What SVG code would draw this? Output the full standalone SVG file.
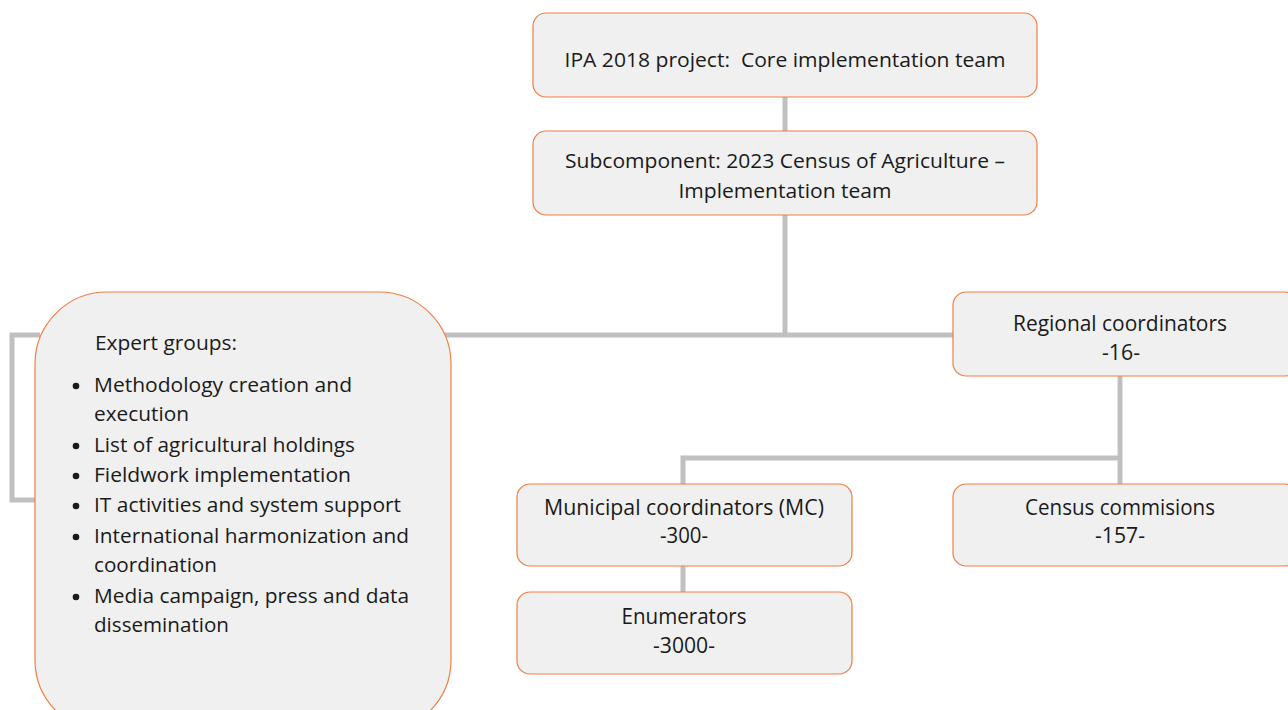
<svg xmlns="http://www.w3.org/2000/svg" width="1288" height="710" viewBox="0 0 1288 710">
<style>
.box{fill:#f0f0f0;stroke:#ef7f45;stroke-width:1.2}
.t{font-family:"Open Sans","Noto Sans","Liberation Sans",sans-serif;font-size:20px;fill:#1a1a1a}
.s{font-size:21px}
.c{text-anchor:middle}
.ln{fill:none;stroke:#c0c0c0;stroke-width:5}
</style>
<rect width="1288" height="710" fill="#ffffff"/>
<g id="connectors">
<line class="ln" x1="785" y1="97" x2="785" y2="131"/>
<line class="ln" x1="785" y1="215" x2="785" y2="335"/>
<line class="ln" x1="440" y1="335" x2="953" y2="335"/>
<polyline class="ln" points="40,335 12,335 12,500 40,500"/>
<line class="ln" x1="1120" y1="376" x2="1120" y2="484"/>
<polyline class="ln" points="1122,458 683,458 683,484"/>
<line class="ln" x1="683" y1="566" x2="683" y2="592"/>
</g>
<g id="core">
<rect class="box" x="533" y="13" width="504" height="84" rx="13"/>
<text class="t c" x="785" y="67" xml:space="preserve" textLength="441" lengthAdjust="spacingAndGlyphs">IPA 2018 project:  Core implementation team</text>
</g>
<g id="subcomponent">
<rect class="box" x="533" y="131" width="504" height="84" rx="13"/>
<text class="t c" x="785" y="168" textLength="440" lengthAdjust="spacingAndGlyphs">Subcomponent: 2023 Census of Agriculture –</text>
<text class="t c" x="785" y="198" textLength="213" lengthAdjust="spacingAndGlyphs">Implementation team</text>
</g>
<g id="expert">
<rect class="box" x="35" y="292" width="416" height="440" rx="72"/>
<text class="t" x="95" y="350" textLength="142" lengthAdjust="spacingAndGlyphs">Expert groups:</text>
<g fill="#1a1a1a">
<circle cx="76" cy="386" r="3.3"/>
<circle cx="76" cy="446" r="3.3"/>
<circle cx="76" cy="476" r="3.3"/>
<circle cx="76" cy="506" r="3.3"/>
<circle cx="76" cy="537" r="3.3"/>
<circle cx="76" cy="597" r="3.3"/>
</g>
<text class="t" x="94" y="392" textLength="258" lengthAdjust="spacingAndGlyphs">Methodology creation and</text>
<text class="t" x="94" y="421" textLength="95" lengthAdjust="spacingAndGlyphs">execution</text>
<text class="t" x="94" y="452" textLength="261" lengthAdjust="spacingAndGlyphs">List of agricultural holdings</text>
<text class="t" x="94" y="482" textLength="257" lengthAdjust="spacingAndGlyphs">Fieldwork implementation</text>
<text class="t" x="94" y="512" textLength="307" lengthAdjust="spacingAndGlyphs">IT activities and system support</text>
<text class="t" x="94" y="543" textLength="315" lengthAdjust="spacingAndGlyphs">International harmonization and</text>
<text class="t" x="94" y="572" textLength="123" lengthAdjust="spacingAndGlyphs">coordination</text>
<text class="t" x="94" y="603" textLength="315" lengthAdjust="spacingAndGlyphs">Media campaign, press and data</text>
<text class="t" x="94" y="632" textLength="135" lengthAdjust="spacingAndGlyphs">dissemination</text>
</g>
<g id="regional">
<rect class="box" x="953" y="292" width="345" height="84" rx="13"/>
<text class="t s c" x="1120" y="331" textLength="214" lengthAdjust="spacingAndGlyphs">Regional coordinators</text>
<text class="t s c" x="1121" y="360" textLength="38" lengthAdjust="spacingAndGlyphs">-16-</text>
</g>
<g id="municipal">
<rect class="box" x="517" y="484" width="335" height="82" rx="13"/>
<text class="t s c" x="684" y="515" textLength="280" lengthAdjust="spacingAndGlyphs">Municipal coordinators (MC)</text>
<text class="t s c" x="684" y="543" textLength="48" lengthAdjust="spacingAndGlyphs">-300-</text>
</g>
<g id="census">
<rect class="box" x="953" y="484" width="345" height="82" rx="13"/>
<text class="t s c" x="1120" y="515" textLength="190" lengthAdjust="spacingAndGlyphs">Census commisions</text>
<text class="t s c" x="1120" y="543" textLength="50" lengthAdjust="spacingAndGlyphs">-157-</text>
</g>
<g id="enumerators">
<rect class="box" x="517" y="592" width="335" height="82" rx="13"/>
<text class="t s c" x="684" y="624" textLength="125" lengthAdjust="spacingAndGlyphs">Enumerators</text>
<text class="t s c" x="684" y="653" textLength="62" lengthAdjust="spacingAndGlyphs">-3000-</text>
</g>
</svg>
